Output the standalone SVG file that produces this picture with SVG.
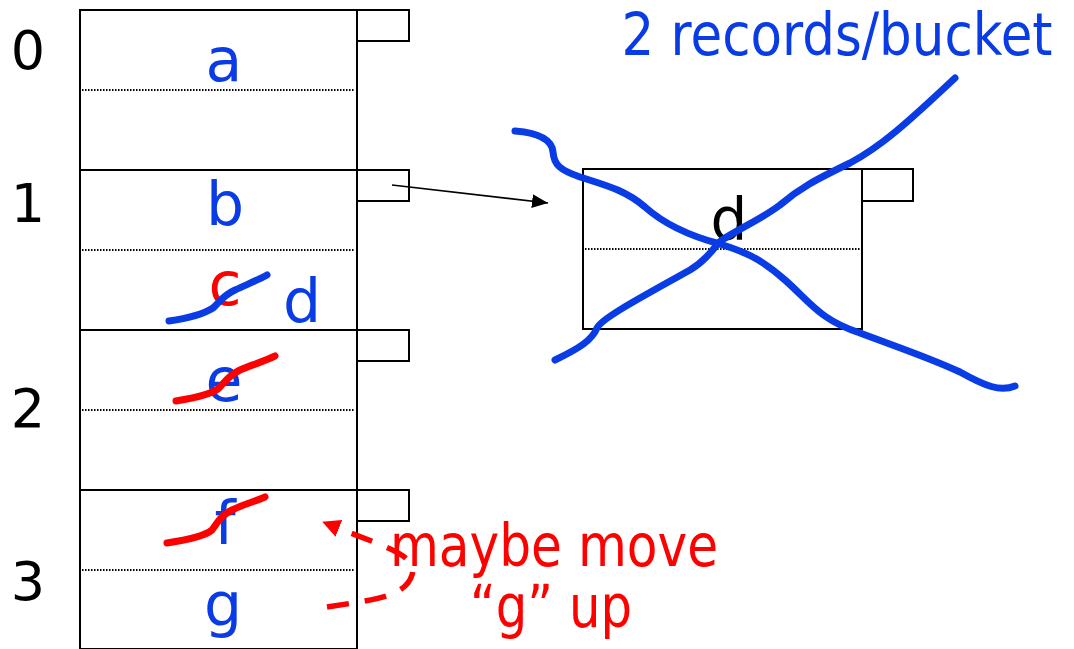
<svg xmlns="http://www.w3.org/2000/svg" width="1074" height="649" viewBox="0 0 1074 649">
<style>
.frame{fill:#fff;stroke:#000;stroke-width:2}
.ptr{fill:#fff;stroke:#000;stroke-width:2}
.dot{stroke:#000;stroke-width:2;stroke-dasharray:1.5 1.5;fill:none}
.num{font-family:"DejaVu Sans",Verdana,sans-serif;font-size:54px;fill:#000;text-anchor:middle}
.rec{font-family:"DejaVu Sans",Verdana,sans-serif;font-size:60px;fill:#0a3ce6;text-anchor:middle}
.red{fill:#ff0000}
.blk{fill:#000}
.note{font-family:"DejaVu Sans",Verdana,sans-serif;font-size:58px;text-anchor:middle}
.bstrike{fill:none;stroke:#0a3ce6;stroke-width:7;stroke-linecap:round}
.rstrike{fill:none;stroke:#ff0000;stroke-width:7;stroke-linecap:round}
</style>
<defs>
<marker id="blackHead" viewBox="0 0 16 14" refX="16" refY="7" markerWidth="16" markerHeight="14" markerUnits="userSpaceOnUse" orient="auto">
<path d="M0,0 L16,7 L0,14 z" fill="#000"/>
</marker>
<marker id="redHead" viewBox="0 0 18 18" refX="1" refY="9" markerWidth="18" markerHeight="18" markerUnits="userSpaceOnUse" orient="auto">
<path d="M0,0 L18,9 L0,18 z" fill="#ff0000"/>
</marker>
</defs>

<g id="bucket0">
<rect class="frame" x="80" y="10" width="277" height="160"/>
<rect class="ptr" x="357" y="10" width="52" height="31"/>
<line class="dot" x1="82" y1="90" x2="355" y2="90"/>
<text class="num" x="28" y="69">0</text>
<text class="rec" x="224" y="81">a</text>
</g>

<g id="bucket1">
<rect class="frame" x="80" y="170" width="277" height="160"/>
<rect class="ptr" x="357" y="170" width="52" height="31"/>
<line class="dot" x1="82" y1="250" x2="355" y2="250"/>
<text class="num" x="28" y="222">1</text>
<text class="rec" x="225" y="225">b</text>
<text class="rec red" x="225" y="305">c</text>
<text class="rec" x="302" y="322">d</text>
</g>

<g id="bucket2">
<rect class="frame" x="80" y="330" width="277" height="160"/>
<rect class="ptr" x="357" y="330" width="52" height="31"/>
<line class="dot" x1="82" y1="410" x2="355" y2="410"/>
<text class="num" x="28" y="427">2</text>
<text class="rec" x="224" y="401">e</text>
</g>

<g id="bucket3">
<rect class="frame" x="80" y="490" width="277" height="159"/>
<rect class="ptr" x="357" y="490" width="52" height="31"/>
<line class="dot" x1="82" y1="570" x2="355" y2="570"/>
<text class="num" x="28" y="600">3</text>
<text class="rec" x="225" y="544">f</text>
<text class="rec" x="223" y="625">g</text>
</g>

<g id="overflow">
<rect class="frame" x="583" y="169" width="279" height="160"/>
<rect class="ptr" x="862" y="169" width="51" height="32"/>
<line class="dot" x1="585" y1="249" x2="860" y2="249"/>
<text class="rec blk" x="729" y="240" style="font-size:58px">d</text>
</g>

<g id="title">
<text class="note" x="837" y="55" fill="#0a3ce6" textLength="431" lengthAdjust="spacingAndGlyphs">2 records/bucket</text>
</g>

<g id="note">
<text class="note red" x="554" y="566" textLength="328" lengthAdjust="spacingAndGlyphs">maybe move</text>
<text class="note red" x="551" y="627" textLength="162" lengthAdjust="spacingAndGlyphs">“g” up</text>
</g>

<g id="connectors">
<line x1="392" y1="185" x2="548" y2="203" stroke="#000" stroke-width="1.6" marker-end="url(#blackHead)"/>
<path d="M327,607 C370,600 405,598 412,575 C418,555 385,547 338,528" fill="none" stroke="#ff0000" stroke-width="5.5" stroke-dasharray="22 16" marker-end="url(#redHead)"/>
</g>

<g id="strikes">
<path class="bstrike" d="M169,321 C190,318 205,313 213,308 C220,302 222,296 235,290 C248,284 258,280 267,275"/>
<path class="rstrike" d="M176,401 C195,398 212,394 219,388 C225,382 228,376 240,370 C252,365 262,362 275,356"/>
<path class="rstrike" d="M167,543 C187,540 205,536 212,530 C218,522 220,516 232,510 C244,504 254,502 265,497"/>
<path class="bstrike" d="M515,131 C540,133 552,140 553,152 C554,165 560,170 580,177 C605,185 625,190 645,207 C665,225 690,236 720,244 C745,252 760,258 785,280 C810,302 820,320 860,333 C900,348 930,358 960,372 C985,386 1000,392 1015,386"/>
<path class="bstrike" d="M555,360 C580,348 592,340 597,328 C602,318 640,298 690,270 C710,258 712,248 722,240 C740,228 760,220 780,205 C800,188 815,180 850,163 C880,147 905,125 955,78"/>
</g>
</svg>
